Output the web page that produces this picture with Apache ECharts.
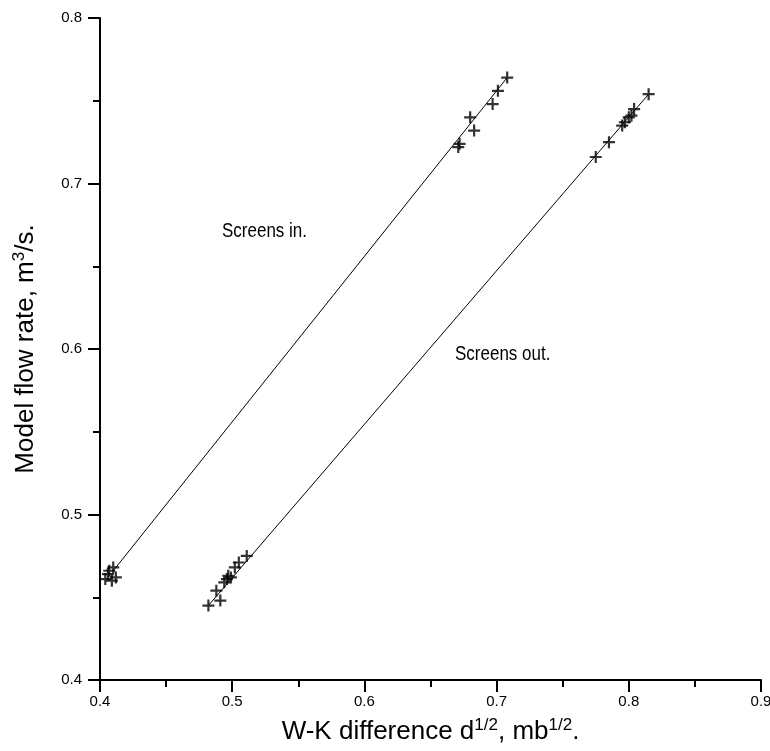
<!DOCTYPE html>
<html>
<head>
<meta charset="utf-8">
<script src="https://cdn.jsdelivr.net/npm/echarts@6/dist/echarts.min.js"></script>
<style>
  html, body { margin: 0; padding: 0; background: #fff; }
  #main { width: 770px; height: 751px; }
</style>
</head>
<body>
<div id="main"></div>
<script>
// measured points, screens in
const inX = [0.404, 0.406, 0.407, 0.409, 0.410, 0.412, 0.671, 0.672, 0.680, 0.683, 0.697, 0.701, 0.708];
const inY = [0.461, 0.464, 0.466, 0.460, 0.468, 0.462, 0.722, 0.724, 0.740, 0.732, 0.748, 0.756, 0.764];
// measured points, screens out
const outX = [0.482, 0.488, 0.491, 0.494, 0.496, 0.497, 0.499, 0.502, 0.505, 0.511,
              0.775, 0.785, 0.795, 0.797, 0.800, 0.802, 0.804, 0.815];
const outY = [0.445, 0.454, 0.448, 0.459, 0.461, 0.463, 0.462, 0.468, 0.471, 0.475,
              0.716, 0.725, 0.735, 0.737, 0.740, 0.741, 0.745, 0.754];
// fitted lines (end points)
const fitInX = [0.410, 0.708];
const fitInY = [0.466, 0.764];
const fitOutX = [0.482, 0.815];
const fitOutY = [0.445, 0.754];

const xMin = 0.4, xMax = 0.9, yMin = 0.4, yMax = 0.8;

function pairs(xs, ys) {
  return xs.map(function (x, i) { return [x, ys[i]]; });
}

const font = '"Liberation Sans", Arial, sans-serif';
const plus = 'path://M5,0L5,10M0,5L10,5';

const markerStyle = { color: 'none', borderColor: '#000', borderWidth: 2.2 };

const nameRich = {
  a: { fontSize: 26, fontFamily: font, color: '#000' },
  s: { fontSize: 17, fontFamily: font, color: '#000', verticalAlign: 'bottom', padding: [0, 0, 12, 0] }
};

const option = {
  animation: false,
  grid: { left: 100, right: 9, top: 18, bottom: 71, outerBoundsMode: 'none' },
  xAxis: {
    type: 'value',
    min: xMin, max: xMax, interval: 0.1,
    name: '{a|W-K difference d}{s|1/2}{a|, mb}{s|1/2}{a|.}',
    nameLocation: 'middle',
    nameGap: 37,
    nameTextStyle: { rich: nameRich },
    axisLine: { lineStyle: { color: '#000', width: 2 } },
    axisTick: { length: 12, lineStyle: { color: '#000', width: 2 } },
    minorTick: { show: true, splitNumber: 2, length: 7, lineStyle: { color: '#000', width: 2 } },
    splitLine: { show: false },
    axisLabel: { color: '#000', fontSize: 15, fontFamily: font, margin: 14,
      formatter: function (v) { return v.toFixed(1); } }
  },
  yAxis: {
    type: 'value',
    min: yMin, max: yMax, interval: 0.1,
    name: '{a|Model flow rate, m}{s|3}{a|/s.}',
    nameLocation: 'middle',
    nameGap: 60,
    nameRotate: 90,
    nameTextStyle: { rich: nameRich },
    axisLine: { lineStyle: { color: '#000', width: 2 } },
    axisTick: { length: 12, lineStyle: { color: '#000', width: 2 } },
    minorTick: { show: true, splitNumber: 2, length: 7, lineStyle: { color: '#000', width: 2 } },
    splitLine: { show: false },
    axisLabel: { color: '#000', fontSize: 15, fontFamily: font, margin: 18,
      formatter: function (v) { return v.toFixed(1); } }
  },
  graphic: [
    { type: 'text', left: 222, top: 221, scaleX: 0.85,
      style: { text: 'Screens in.', fontSize: 20, fontFamily: font, fill: '#000' } },
    { type: 'text', left: 455, top: 344, scaleX: 0.85,
      style: { text: 'Screens out.', fontSize: 20, fontFamily: font, fill: '#000' } }
  ],
  series: [
    { type: 'line', data: pairs(fitInX, fitInY), symbol: 'none', lineStyle: { color: '#000', width: 1 } },
    { type: 'line', data: pairs(fitOutX, fitOutY), symbol: 'none', lineStyle: { color: '#000', width: 1 } },
    { type: 'scatter', data: pairs(inX, inY), symbol: plus, symbolSize: 12, itemStyle: markerStyle },
    { type: 'scatter', data: pairs(outX, outY), symbol: plus, symbolSize: 12, itemStyle: markerStyle }
  ]
};

const chart = echarts.init(document.getElementById('main'), null, { renderer: 'canvas' });
chart.setOption(option);
window.addEventListener('resize', function () { chart.resize(); });
</script>
</body>
</html>
